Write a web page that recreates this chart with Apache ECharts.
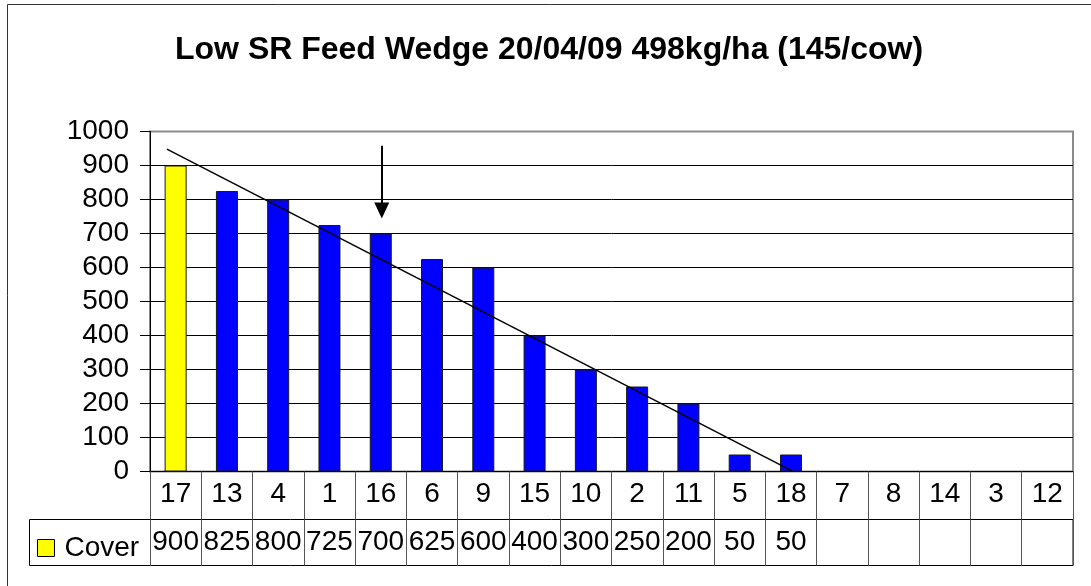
<!DOCTYPE html>
<html>
<head>
<meta charset="utf-8">
<script src="https://cdn.jsdelivr.net/npm/echarts@6/dist/echarts.min.js"></script>
<style>
  html, body { margin: 0; padding: 0; background: #fff; }
  #main { width: 1091px; height: 586px; }
</style>
</head>
<body>
<div id="main"></div>
<script>
// paddock rotation order (x axis) and pasture cover kg DM/ha
const paddocks = ['17', '13', '4', '1', '16', '6', '9', '15', '10', '2', '11', '5', '18', '7', '8', '14', '3', '12'];
const coverValues = [900, 825, 800, 725, 700, 625, 600, 400, 300, 250, 200, 50, 50, null, null, null, null, null];
const yTicks = [0, 100, 200, 300, 400, 500, 600, 700, 800, 900, 1000];

// hand drawn wedge line and arrow (x in category units, y in cover)
const trendPoints = [[0.33, 948], [12.52, 2]];
const arrowPoints = [[4.52, 958], [4.52, 768]];

const font = 'Liberation Sans, Arial, sans-serif';

const myChart = echarts.init(document.getElementById('main'));

const barData = coverValues.map((v, i) =>
  i === 0 ? { value: v, itemStyle: { color: '#ffff00' } } : v
);

myChart.setOption({
  animation: false,
  backgroundColor: '#fff',
  title: {
    text: 'Low SR Feed Wedge 20/04/09 498kg/ha (145/cow)',
    left: 175,
    top: 34,
    padding: 0,
    textStyle: { fontFamily: font, fontSize: 32, fontWeight: 'bold', color: '#000' },
  },
  legend: {
    data: [{ name: 'Cover', itemStyle: { color: '#ffff00', borderColor: '#000', borderWidth: 1 } }],
    left: 37,
    top: 534,
    padding: 0,
    icon: 'rect',
    itemWidth: 17,
    itemHeight: 17,
    selectedMode: false,
    textStyle: { fontFamily: font, fontSize: 28, color: '#000', padding: [0, 0, 0, 5] },
  },
  grid: {
    left: 150,
    right: 18,
    top: 131.5,
    bottom: 114.5,
    show: true,
    borderColor: '#8c8c8c',
    borderWidth: 2,
    backgroundColor: 'transparent',
  },
  xAxis: [
    {
      type: 'category',
      data: paddocks,
      position: 'bottom',
      axisLine: { lineStyle: { color: '#000', width: 1 } },
      axisTick: { show: true, interval: 0, length: 48, lineStyle: { color: '#555' } },
      axisLabel: { interval: 0, margin: 9, fontFamily: font, fontSize: 28, lineHeight: 28, color: '#000' },
    },
    {
      type: 'category',
      data: coverValues.map(v => (v == null ? '' : String(v))),
      position: 'bottom',
      offset: 48,
      axisLine: { show: false },
      axisTick: { show: true, interval: 0, length: 46, lineStyle: { color: '#555' } },
      axisLabel: { interval: 0, margin: 9, fontFamily: font, fontSize: 28, lineHeight: 28, color: '#000' },
    },
    {
      type: 'value',
      show: false,
      min: 0,
      max: paddocks.length,
    },
  ],
  yAxis: {
    type: 'value',
    min: yTicks[0],
    max: yTicks[yTicks.length - 1],
    interval: 100,
    axisLine: { show: true, lineStyle: { color: '#000' } },
    axisTick: { show: true, length: 10, lineStyle: { color: '#000' } },
    axisLabel: { margin: 21, fontFamily: font, fontSize: 28, color: '#000', formatter: v => String(v) },
    splitLine: { show: true, showMaxLine: false, lineStyle: { color: '#000', width: 1 } },
  },
  series: [
    {
      name: 'Cover',
      type: 'bar',
      data: barData,
      barWidth: 22,
      itemStyle: { color: '#0000ff', borderColor: '#1a1a1a', borderWidth: 1 },
      z: 2,
    },
    {
      name: 'wedge',
      type: 'line',
      xAxisIndex: 2,
      data: trendPoints,
      showSymbol: false,
      symbol: 'none',
      lineStyle: { color: '#000', width: 1.5 },
      z: 3,
      markLine: {
        silent: true,
        symbol: ['none', 'triangle'],
        symbolSize: [15, 16],
        label: { show: false },
        lineStyle: { color: '#000', width: 2, type: 'solid' },
        data: [[{ coord: arrowPoints[0] }, { coord: arrowPoints[1] }]],
      },
    },
  ],
  graphic: [
    {
      type: 'rect',
      shape: { x: 7.5, y: 4.5, width: 1200, height: 700 },
      style: { fill: null, stroke: '#333', lineWidth: 1 },
      silent: true,
    },
    {
      type: 'rect',
      shape: { x: 29.5, y: 519.5, width: 1043.5, height: 46 },
      style: { fill: null, stroke: '#000', lineWidth: 1 },
      silent: true,
    },
  ],
});
</script>
</body>
</html>
